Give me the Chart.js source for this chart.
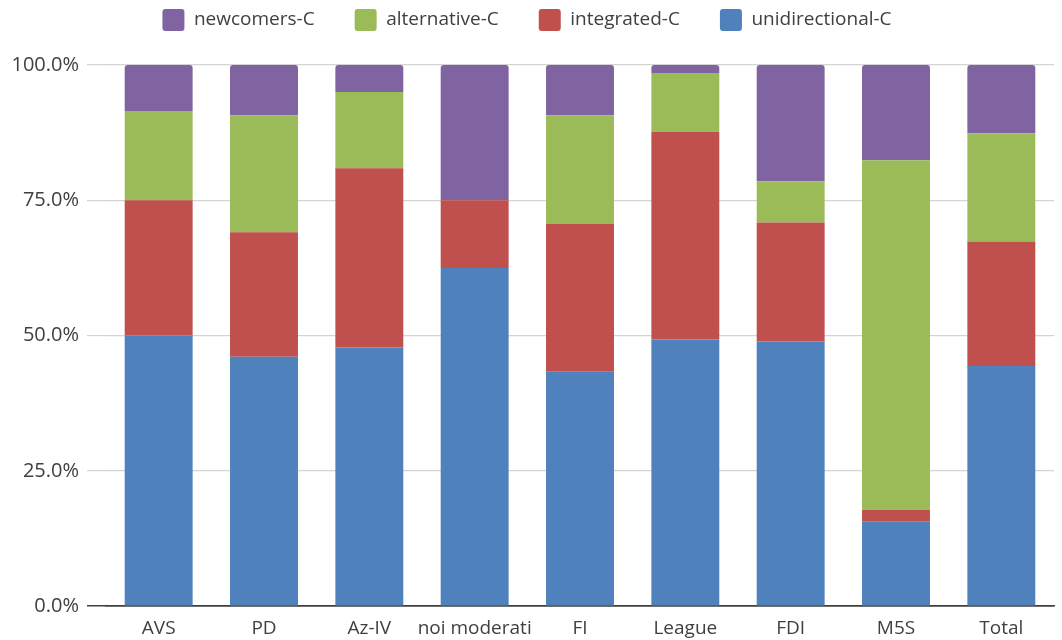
<!DOCTYPE html>
<html>
<head>
<meta charset="utf-8">
<script src="https://cdn.jsdelivr.net/npm/chart.js@4/dist/chart.umd.min.js"></script>
<style>
  html, body { margin: 0; padding: 0; background: #fff; }
  #wrap { width: 1062px; height: 640px; }
</style>
</head>
<body>
<div id="wrap"><canvas id="chart" width="1062" height="640"></canvas></div>
<script>
// categories and shares (percent of each party's total)
const parties = ['AVS', 'PD', 'Az-IV', 'noi moderati', 'FI', 'League', 'FDI', 'M5S', 'Total'];
const unidirectional = [50.0, 46.1, 47.8, 62.5, 43.3, 49.3, 48.9, 15.7, 44.4];
const integrated     = [25.0, 23.0, 33.1, 12.5, 27.3, 38.3, 22.0, 2.1, 23.0];
const alternative    = [16.5, 21.6, 14.1, 0.0, 20.1, 10.9, 7.6, 64.6, 20.0];
const newcomers      = [8.5, 9.3, 5.0, 25.0, 9.3, 1.5, 21.5, 17.6, 12.6];
const yTicks = [0, 25, 50, 75, 100];

const textColor = '#404040';
const fontFamily = '"Open Sans", "Noto Sans", sans-serif';

function serie(label, data, color) {
    return {
        label: label,
        data: data,
        backgroundColor: color,
        borderWidth: 0,
        borderRadius: 3,
        categoryPercentage: 1.0,
        barPercentage: 0.645
    };
}

// un peu d'espace entre la légende et le graphique
const legendGap = {
    id: 'legendGap',
    beforeInit(chart) {
        const fitOrig = chart.legend.fit;
        chart.legend.fit = function () {
            fitOrig.bind(chart.legend)();
            this.height += 24;
        };
    }
};

const ctx = document.getElementById('chart').getContext('2d');
new Chart(ctx, {
    type: 'bar',
    data: {
        labels: parties,
        datasets: [
            serie('unidirectional-C', unidirectional, '#4F81BD'),
            serie('integrated-C', integrated, '#C0504D'),
            serie('alternative-C', alternative, '#9BBB59'),
            serie('newcomers-C', newcomers, '#8064A2')
        ]
    },
    plugins: [legendGap],
    options: {
        responsive: false,
        animation: false,
        layout: { padding: { top: -31, right: 8, left: 0, bottom: -3 } },
        scales: {
            x: {
                stacked: true,
                grid: { display: false },
                border: { display: true, color: '#404040', width: 1.5 },
                ticks: {
                    color: textColor,
                    padding: 3,
                    maxRotation: 0,
                    autoSkip: false,
                    font: { family: fontFamily, size: 19 }
                }
            },
            y: {
                stacked: true,
                min: 0,
                max: 100,
                afterBuildTicks: (scale) => {
                    scale.ticks = yTicks.map(v => ({ value: v }));
                },
                afterFit: (scale) => { scale.width = 106; },
                border: { display: false },
                grid: {
                    color: (c) => c.tick && c.tick.value === 0 ? '#404040' : '#d4d4d4',
                    tickColor: (c) => c.tick && c.tick.value === 0 ? '#404040' : '#d4d4d4',
                    lineWidth: (c) => c.tick && c.tick.value === 0 ? 1.5 : 1.2,
                    tickLength: 19
                },
                ticks: {
                    color: textColor,
                    padding: 8,
                    font: { family: fontFamily, size: 20 },
                    callback: (v) => v.toFixed(1) + '%'
                }
            }
        },
        plugins: {
            tooltip: { enabled: false },
            legend: {
                position: 'top',
                reverse: true,
                labels: {
                    color: textColor,
                    font: { family: fontFamily, size: 19 },
                    boxWidth: 22,
                    boxHeight: 22,
                    useBorderRadius: true,
                    borderRadius: 3,
                    padding: 40
                }
            }
        }
    }
});
</script>
</body>
</html>
